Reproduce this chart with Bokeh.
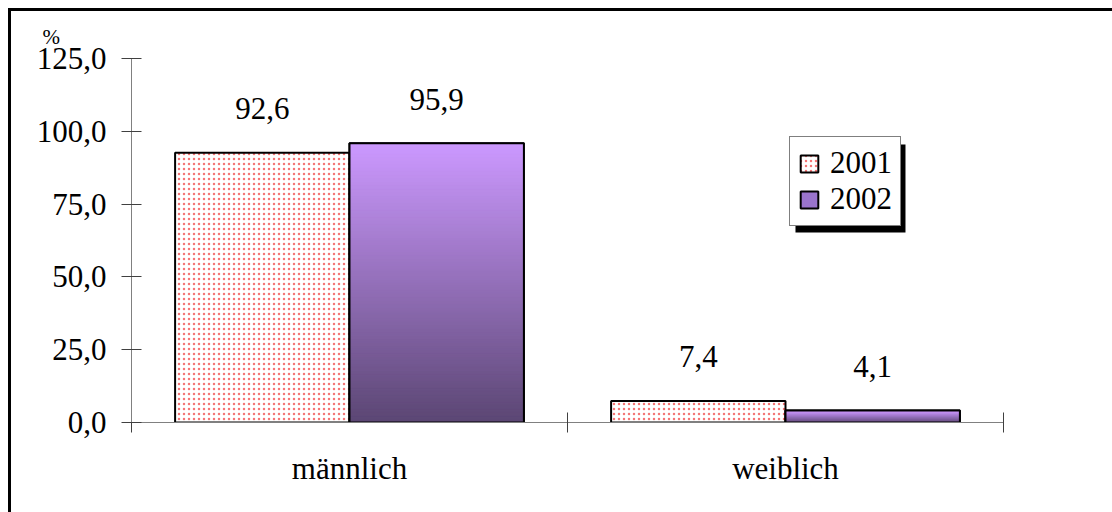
from bokeh.plotting import figure
from bokeh.models import (ColumnDataSource, FixedTicker, LinearAxis, Legend, LegendItem,
                          BoxAnnotation, Range1d)
from bokeh.core.properties import value
from bokeh.embed import file_html
from bokeh.resources import INLINE

# ---- data ----
categories = ["männlich", "weiblich"]
series_names = ["2001", "2002"]
values_2001 = [92.6, 7.4]
values_2002 = [95.9, 4.1]
y_ticks = [0, 25, 50, 75, 100, 125]
y_tick_labels = ["0,0", "25,0", "50,0", "75,0", "100,0", "125,0"]
y_unit = "%"

FONT = "Liberation Serif"
FS = "31px"
BAR_W = 0.4
TOP_COLOR = (0xCC, 0x99, 0xFF)
BOT_COLOR = (0x5B, 0x46, 0x73)
MID_COLOR = "#9A74CC"


def fmt(v):
    return f"{v:.1f}".replace(".", ",")


def lerp(c1, c2, t):
    return "#%02x%02x%02x" % tuple(int(round(a + (b - a) * t)) for a, b in zip(c1, c2))


n_cat = len(categories)
p = figure(frame_width=872, frame_height=364,
           x_range=Range1d(0, n_cat), y_range=Range1d(y_ticks[0], y_ticks[-1]),
           x_axis_type=None, y_axis_type=None,
           min_border_left=120, min_border_top=47, min_border_right=109, min_border_bottom=90,
           output_backend="svg", toolbar_location=None)
p.outline_line_color = None
p.grid.visible = False
p.styles = {"border-top": "3px solid black", "border-left": "3px solid black",
            "margin-left": "8px", "margin-top": "8px"}

# ---- unit label as title ----
p.title.text = y_unit
p.title.align = "left"
p.title.offset = -89
p.title.text_font = FONT
p.title.text_font_size = "21px"
p.title.text_font_style = "normal"
p.title.text_color = "black"
p.title.standoff = 19

# ---- y axis ----
yax = LinearAxis(ticker=FixedTicker(ticks=y_ticks),
                 major_label_overrides=dict(zip(y_ticks, y_tick_labels)))
yax.major_tick_in = 10
yax.major_tick_out = 10
yax.minor_tick_line_color = None
yax.axis_line_color = "#808080"
yax.major_tick_line_color = "#404040"
yax.major_label_text_font = FONT
yax.major_label_text_font_size = FS
yax.major_label_text_color = "black"
yax.major_label_standoff = 15
p.add_layout(yax, "left")

# ---- x axis: boundary ticks ----
bounds = list(range(n_cat + 1))
xax = LinearAxis(ticker=FixedTicker(ticks=bounds),
                 major_label_overrides={b: "" for b in bounds})
xax.major_tick_in = 10
xax.major_tick_out = 10
xax.minor_tick_line_color = None
xax.axis_line_color = "#808080"
xax.major_tick_line_color = "#404040"
xax.major_label_text_font_size = "1px"
xax.major_label_standoff = 0
p.add_layout(xax, "below")

# ---- x axis: category labels ----
centers = [i + 0.5 for i in range(n_cat)]
cax = LinearAxis(ticker=FixedTicker(ticks=centers),
                 major_label_overrides=dict(zip(centers, categories)))
cax.axis_line_color = None
cax.major_tick_line_color = None
cax.minor_tick_line_color = None
cax.major_tick_in = 0
cax.major_tick_out = 0
cax.major_label_text_font = FONT
cax.major_label_text_font_size = FS
cax.major_label_text_color = "black"
cax.major_label_standoff = 18
p.add_layout(cax, "below")

# ---- bars 2001 (stipple) ----
x01 = [i + 0.5 - BAR_W / 2 for i in range(n_cat)]
x02 = [i + 0.5 + BAR_W / 2 for i in range(n_cat)]
src01 = ColumnDataSource(dict(left=[x - BAR_W / 2 for x in x01], right=[x + BAR_W / 2 for x in x01],
                              bottom=[0] * n_cat, top=values_2001))
r01 = p.quad(left="left", right="right", bottom="bottom", top="top", source=src01,
             fill_color="white", hatch_pattern="dot", hatch_color="#F03A3A", hatch_alpha=0.7,
             hatch_scale=5, hatch_weight=1, line_color="black", line_width=2)

# ---- bars 2002 (gradient) ----
src02 = ColumnDataSource(dict(left=[x - BAR_W / 2 for x in x02], right=[x + BAR_W / 2 for x in x02],
                              bottom=[0] * n_cat, top=values_2002))
r02 = p.quad(left="left", right="right", bottom="bottom", top="top", source=src02,
             fill_color=MID_COLOR, line_color="black", line_width=2)

N = 80
bl, br, bb, bt, bc = [], [], [], [], []
for i, v in enumerate(values_2002):
    for k in range(N):
        bl.append(x02[i] - BAR_W / 2)
        br.append(x02[i] + BAR_W / 2)
        bb.append(v * k / N)
        bt.append(v * (k + 1) / N)
        bc.append(lerp(BOT_COLOR, TOP_COLOR, (k + 0.5) / N))
p.quad(left=bl, right=br, bottom=bb, top=bt, fill_color=bc, line_color=bc, line_width=1)
p.quad(left="left", right="right", bottom="bottom", top="top", source=src02,
       fill_color=None, line_color="black", line_width=2)

# ---- value labels ----
lab_x = x01 + x02
lab_y = values_2001 + values_2002
lab_t = [fmt(v) for v in lab_y]
p.text(x=lab_x, y=lab_y, text=lab_t, text_align="center", text_baseline="alphabetic",
       y_offset=-44, text_font=value(FONT), text_font_size=FS, text_color="black")

# ---- legend with shadow ----
p.add_layout(BoxAnnotation(left=1.5229, right=1.7752, top=95.47, bottom=65.25,
                           fill_color="black", fill_alpha=1, line_color=None))
legend = Legend(items=[LegendItem(label=series_names[0], renderers=[r01]),
                       LegendItem(label=series_names[1], renderers=[r02])],
                location=(658, 196))
legend.label_text_font = FONT
legend.label_text_font_size = FS
legend.label_text_color = "black"
legend.glyph_width = 22
legend.glyph_height = 21
legend.label_standoff = 10
legend.padding = 8
legend.spacing = 0
legend.margin = 0
legend.border_line_color = "black"
legend.border_line_width = 1
legend.background_fill_color = "white"
legend.background_fill_alpha = 1
p.add_layout(legend, "center")

open("out.html", "w").write(file_html(p, INLINE))
